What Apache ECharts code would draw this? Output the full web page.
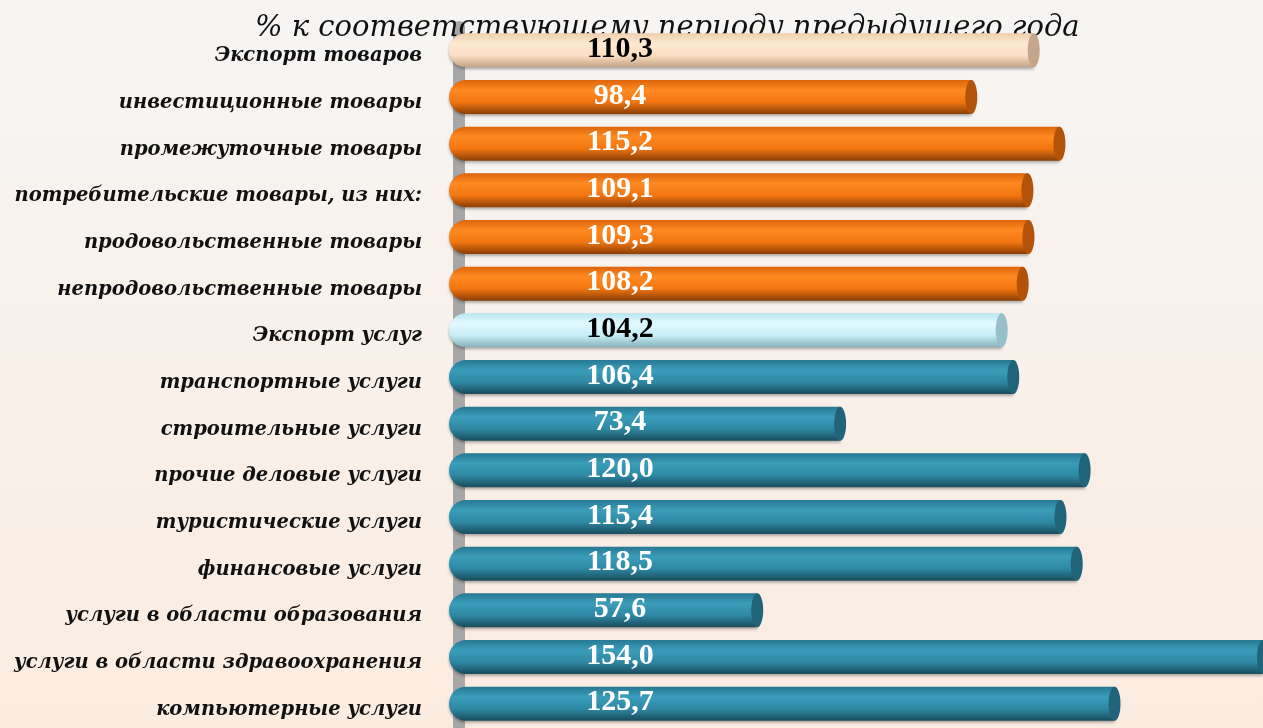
<!DOCTYPE html>
<html>
<head>
<meta charset="utf-8">
<script src="https://cdn.jsdelivr.net/npm/echarts@6/dist/echarts.min.js"></script>
<style>
  html, body { margin: 0; padding: 0; }
  #chart { width: 1263px; height: 728px; }
</style>
</head>
<body>
<div id="chart"></div>
<script>
  // категории (сверху вниз)
  var categories = [
    'Экспорт товаров',
    'инвестиционные товары',
    'промежуточные товары',
    'потребительские товары, из них:',
    'продовольственные товары',
    'непродовольственные товары',
    'Экспорт услуг',
    'транспортные услуги',
    'строительные услуги',
    'прочие деловые услуги',
    'туристические услуги',
    'финансовые услуги',
    'услуги в области образования',
    'услуги в области здравоохранения',
    'компьютерные услуги'
  ];
  var values = [110.3, 98.4, 115.2, 109.1, 109.3, 108.2, 104.2, 106.4, 73.4, 120.0, 115.4, 118.5, 57.6, 154.0, 125.7];
  // тип окраски для каждой строки
  var kinds = ['peach', 'orange', 'orange', 'orange', 'orange', 'orange', 'sky', 'teal', 'teal', 'teal', 'teal', 'teal', 'teal', 'teal', 'teal'];

  var palettes = {
    peach:  { stops: ['#f0cfae', '#fde8d2', '#fbdfc2', '#c2a285'], cap: '#c4a68a', text: '#000' },
    orange: { stops: ['#dc650a', '#ff8a22', '#f27510', '#8a3f06'], cap: '#b3530a', text: '#fff' },
    sky:    { stops: ['#b9e6f2', '#e2f9ff', '#c6eef8', '#86afbb'], cap: '#98c0cb', text: '#000' },
    teal:   { stops: ['#277893', '#3b9dba', '#2e88a4', '#1a4b5b'], cap: '#21647a', text: '#fff' }
  };

  var chartData = values.map(function (v, i) { return [v, i]; });

  function fmt(v) {
    return v.toFixed(1).replace('.', ',');
  }

  function renderItem(params, api) {
    var v = api.value(0);
    var idx = api.value(1);
    var start = api.coord([0, idx]);
    var end = api.coord([v, idx]);
    var h = api.size([0, 1])[1] * 0.73;
    var pal = palettes[kinds[params.dataIndex]];
    var s = pal.stops;
    var fill = new echarts.graphic.LinearGradient(0, 0, 0, 1, [
      { offset: 0, color: s[0] },
      { offset: 0.3, color: s[1] },
      { offset: 0.65, color: s[2] },
      { offset: 1, color: s[3] }
    ]);
    return {
      type: 'group',
      children: [
        {
          type: 'rect',
          shape: { x: start[0] - 10, y: start[1] - h / 2, width: end[0] - start[0] + 6, height: h, r: [h / 2, 0, 0, h / 2] },
          style: { fill: fill, shadowBlur: 3, shadowOffsetY: 2, shadowColor: 'rgba(0,0,0,0.3)' }
        },
        {
          type: 'ellipse',
          shape: { cx: end[0] - 4, cy: start[1], rx: 6, ry: h / 2 },
          style: { fill: pal.cap }
        },
        {
          type: 'text',
          style: {
            text: fmt(v),
            x: start[0] + 161,
            y: start[1] - 1,
            align: 'center',
            verticalAlign: 'middle',
            font: 'bold 30px "Liberation Serif"',
            fill: pal.text
          }
        }
      ]
    };
  }

  var myChart = echarts.init(document.getElementById('chart'));
  myChart.setOption({
    animation: false,
    backgroundColor: new echarts.graphic.LinearGradient(0, 0, 0, 1, [
      { offset: 0, color: '#f6f5f4' },
      { offset: 1, color: '#fbece0' }
    ]),
    title: {
      text: '% к соответствующему периоду предыдущего года',
      left: 250,
      top: 9,
      z: 1,
      textStyle: {
        fontFamily: 'DejaVu Serif',
        fontStyle: 'italic',
        fontWeight: 'normal',
        fontSize: 29,
        color: '#111'
      }
    },
    grid: {
      left: 459,
      top: 27,
      width: 808,
      height: 700,
      outerBoundsMode: 'none'
    },
    xAxis: {
      type: 'value',
      min: 0,
      max: 154,
      show: false
    },
    yAxis: {
      type: 'category',
      data: categories,
      inverse: true,
      offset: 6,
      axisTick: { show: false },
      axisLine: { show: true, lineStyle: { color: '#a7a7a7', width: 12 } },
      axisLabel: {
        margin: 31,
        formatter: function (v) { return '{a|' + v + '}'; },
        rich: {
          a: {
            padding: [12, 0, 0, 0],
            fontFamily: 'DejaVu Serif',
            fontStyle: 'italic',
            fontWeight: 'bold',
            fontSize: 19.5,
            color: '#111'
          }
        }
      },
      splitLine: { show: false }
    },
    series: [
      {
        type: 'custom',
        renderItem: renderItem,
        encode: { x: 0, y: 1 },
        data: chartData,
        z: 2
      }
    ]
  });

  window.addEventListener('resize', function () {
    myChart.resize();
  });
</script>
</body>
</html>
